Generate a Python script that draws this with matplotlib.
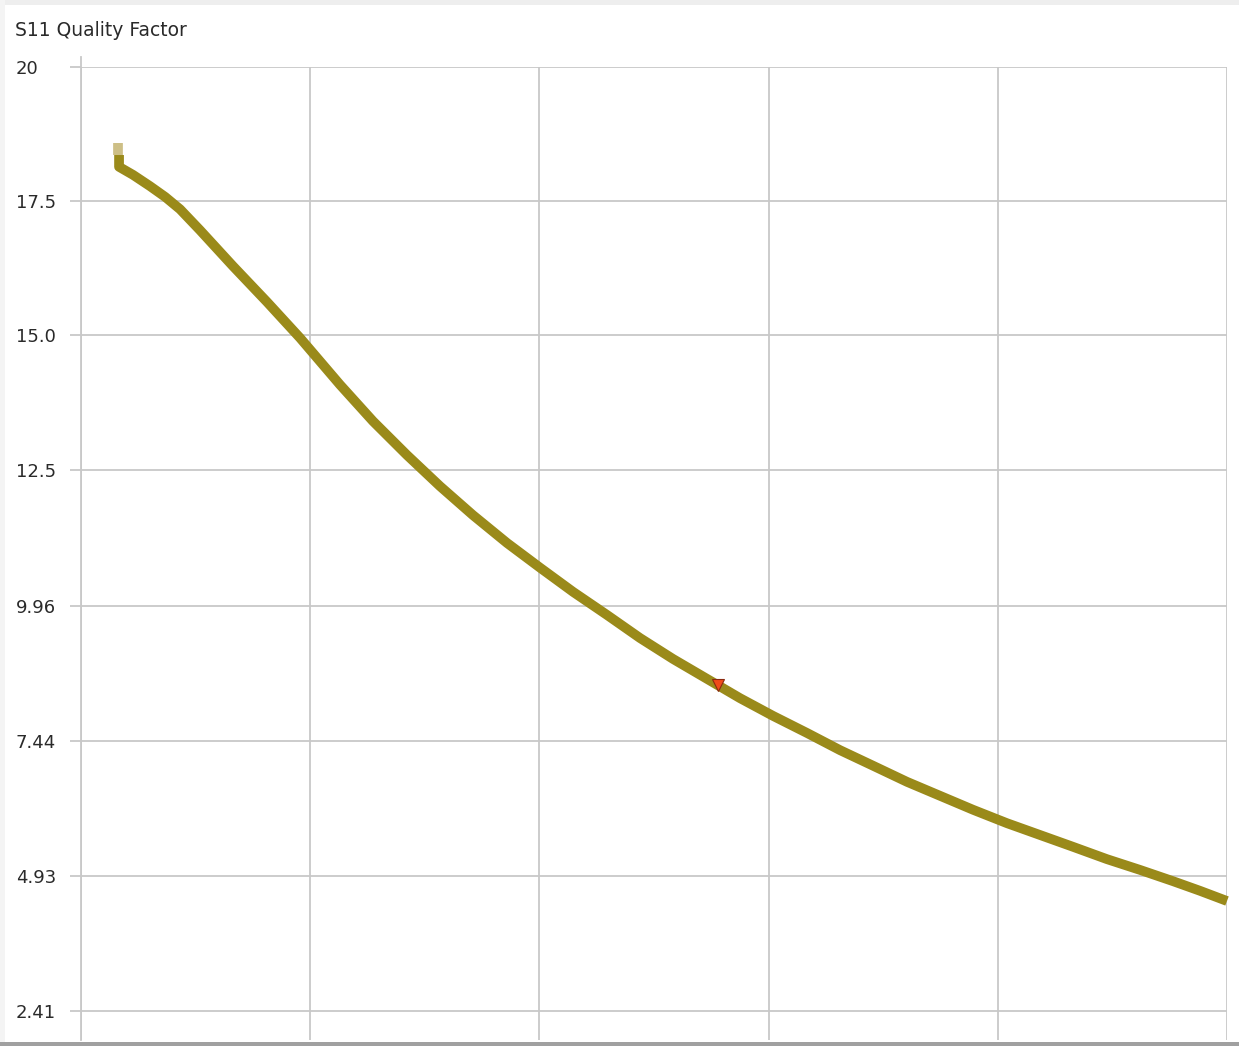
import matplotlib
matplotlib.use("Agg")
import matplotlib.pyplot as plt
from matplotlib.patches import Rectangle

# S11 quality factor trace (sweep position across the five grid divisions)
sweep_pos = [0.166, 0.166, 0.227, 0.301, 0.367, 0.432, 0.519, 0.663, 0.812,
             0.956, 1.130, 1.274, 1.422, 1.566, 1.710, 1.859, 2.003, 2.147,
             2.295, 2.439, 2.583, 2.731, 2.875, 3.019, 3.168, 3.312, 3.456,
             3.604, 3.748, 3.892, 4.040, 4.184, 4.328, 4.476, 4.620, 4.764,
             4.882, 5.000]
q_factor = [18.36, 18.14, 17.99, 17.78, 17.58, 17.35, 16.96, 16.29, 15.62,
            14.95, 14.08, 13.40, 12.77, 12.19, 11.65, 11.13, 10.67, 10.22,
            9.79, 9.36, 8.97, 8.60, 8.24, 7.91, 7.59, 7.27, 6.98,
            6.68, 6.42, 6.16, 5.91, 5.69, 5.47, 5.24, 5.04, 4.83,
            4.65, 4.46]

# first sample of the sweep (drawn lighter)
lead_pos = [0.161, 0.161]
lead_q = [18.58, 18.36]

# marker position on the trace
marker_pos = [2.779]
marker_q = [8.49]

y_ticks = [20.0, 17.5, 15.0, 12.5, 9.96, 7.44, 4.93, 2.41]
y_tick_labels = ["20", "17.5", "15.0", "12.5", "9.96", "7.44", "4.93", "2.41"]
x_grid = [0, 1, 2, 3, 4, 5]

W, H = 1239, 1046
fig = plt.figure(figsize=(W / 100, H / 100), dpi=100)
fig.patch.set_facecolor("white")

# window frame
fig.add_artist(Rectangle((0, 1 - 5 / H), 1, 5 / H, transform=fig.transFigure,
                         color="#eeeeee", lw=0))
fig.add_artist(Rectangle((0, 0), 5 / W, 1, transform=fig.transFigure,
                         color="#f4f4f4", lw=0))
fig.add_artist(Rectangle((0, 0), 1, 4 / H, transform=fig.transFigure,
                         color="#a0a0a0", lw=0))

ax = fig.add_axes([81 / W, 6 / H, 1146 / W, 973 / H])
ax.set_xlim(0, 5)
ax.set_ylim(1.87, 20.0)

grid_col = "#c8c8c8"
for s in ["top", "right", "bottom"]:
    ax.spines[s].set_visible(False)
ax.spines["left"].set_color(grid_col)
ax.spines["left"].set_linewidth(1.3)
ax.spines["left"].set_bounds(1.87, 20.18)

ax.set_xticks(x_grid)
ax.tick_params(axis="x", length=0, labelbottom=False)
ax.set_yticks(y_ticks)
ax.set_yticklabels(y_tick_labels)
ax.tick_params(axis="y", length=8, width=1.3, color=grid_col, pad=39,
               labelsize=13, labelcolor="#2a2a2a")
for lbl in ax.get_yticklabels():
    lbl.set_horizontalalignment("left")

ax.grid(True, color=grid_col, linewidth=1.3)
ax.set_axisbelow(True)

ax.plot(lead_pos, lead_q, color="#cdbf86", linewidth=7,
        solid_capstyle="butt", zorder=3, clip_on=False)
ax.plot(sweep_pos, q_factor, color="#9a8a1a", linewidth=7,
        solid_capstyle="butt", solid_joinstyle="round", zorder=3,
        clip_on=False)
ax.plot(marker_pos, marker_q, linestyle="none", marker="v", markersize=9,
        markerfacecolor="#f04a1a", markeredgecolor="#8a2a10",
        markeredgewidth=0.8, zorder=4)

fig.text(15 / W, 1 - 30 / H, "S11 Quality Factor", fontsize=13.5,
         color="#2a2a2a", ha="left", va="center")

fig.savefig("out.png", dpi=100, facecolor="white")
